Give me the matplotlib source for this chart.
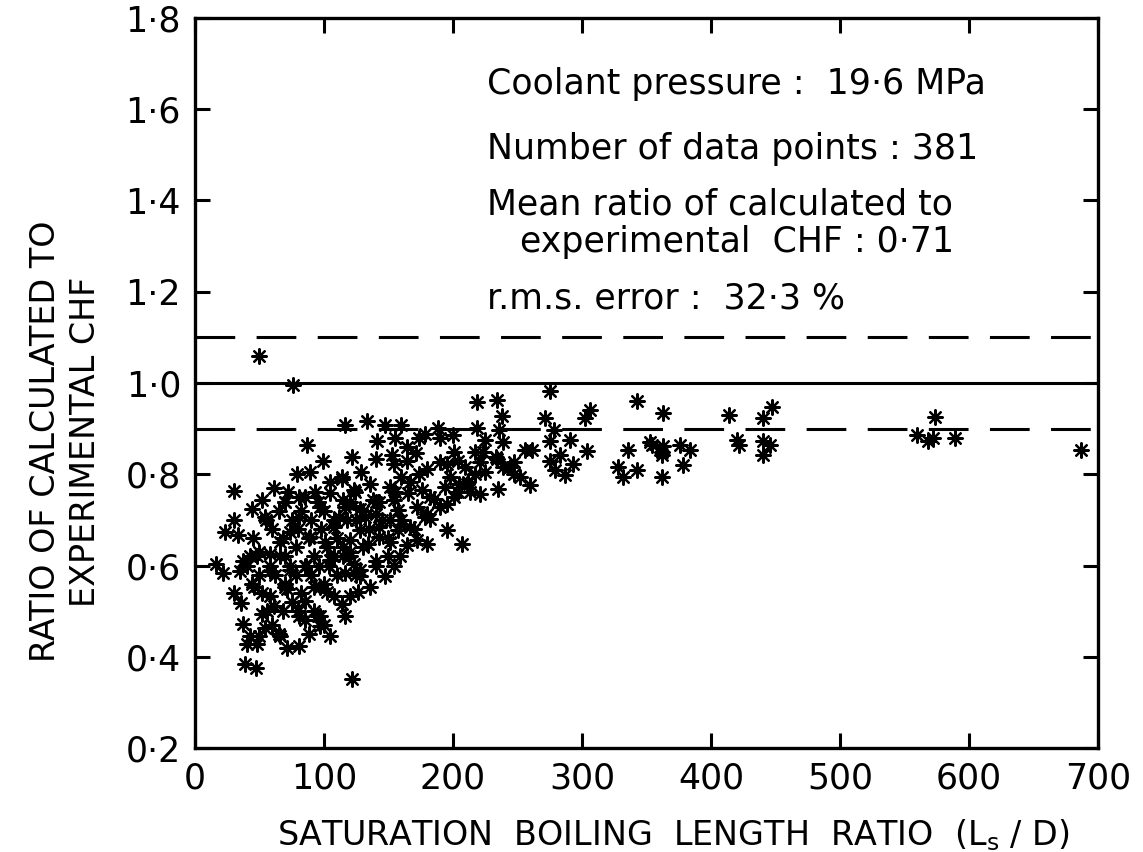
import matplotlib.pyplot as plt
import matplotlib.ticker as mticker

# Ls/D and ratio of calculated to experimental CHF
ls_d = [
    50, 76, 87, 99, 79, 114, 30, 61, 72, 52, 44, 30, 23, 33,
    16, 22, 30, 36, 37, 43, 40, 39, 47, 48, 71, 114, 97, 95, 92, 71, 74, 58, 37, 52, 61, 54, 102, 105, 122,
    219, 234, 238, 236, 239, 219, 225, 223, 234, 221, 217, 211, 221, 235,
    116, 133, 147, 160, 141, 178, 188, 190, 200, 164, 171, 153, 122, 140, 195, 204, 180, 129, 154, 164,
    114, 151, 160, 174, 176, 198, 205, 212, 185, 195, 204, 123, 136, 138, 128, 115, 154, 157, 172, 180,
    182, 151, 140, 118, 128, 143, 157, 195, 207, 172, 180, 164, 120, 134, 143, 154, 115, 123, 128, 116, 126,
    275, 343, 363, 271, 306, 302, 278, 275, 291, 256, 261, 304, 336, 353, 362, 233, 247, 283, 275, 239,
    247, 279, 287, 293, 328, 343, 332, 362, 260,
    414, 447, 440, 354, 363, 362, 376, 384, 378, 420, 422, 440, 446, 440, 574, 560, 568, 572, 589, 687,
    55, 60, 65, 68, 70, 75, 78, 80, 82, 85, 88, 90, 92, 95, 98, 100, 102, 105, 108, 110,
    58, 62, 66, 70, 74, 78, 82, 86, 90, 96, 100, 104, 108,
    45, 48, 50, 44, 40, 52, 56, 60, 65, 68, 75, 80, 85, 88, 92, 100,
    120, 125, 130, 135, 140, 145, 150, 160, 165, 170, 110, 115, 120, 125, 130, 140, 150,
    54, 66, 81, 89, 101, 112, 70, 85, 97, 108, 81, 58, 46, 43, 35, 81, 93, 105, 89, 70,
    120, 136, 147, 159, 105, 81, 66, 50, 74, 97, 108, 120, 132, 143, 155, 167, 182, 194, 209, 217,
    201, 190, 174, 155, 124, 116, 50, 58, 70, 85, 97, 116, 128, 140, 151, 167, 178, 190, 201, 213,
    225, 244, 252,
]
ratio = [
    1.059, 0.996, 0.865, 0.830, 0.800, 0.789, 0.763, 0.770, 0.761, 0.743, 0.724, 0.700, 0.674, 0.667,
    0.604, 0.583, 0.539, 0.517, 0.472, 0.446, 0.428, 0.385, 0.376, 0.428, 0.420, 0.515, 0.467, 0.489, 0.554,
    0.548, 0.590, 0.626, 0.609, 0.493, 0.511, 0.463, 0.543, 0.613, 0.352,
    0.959, 0.963, 0.928, 0.898, 0.870, 0.902, 0.876, 0.848, 0.833, 0.826, 0.800, 0.778, 0.757, 0.767,
    0.907, 0.917, 0.909, 0.909, 0.874, 0.889, 0.902, 0.880, 0.887, 0.859, 0.846, 0.843, 0.837, 0.833,
    0.822, 0.830, 0.811, 0.804, 0.822, 0.830,
    0.793, 0.772, 0.793, 0.800, 0.765, 0.793, 0.778, 0.783, 0.746, 0.735, 0.761, 0.765, 0.778, 0.743,
    0.724, 0.743, 0.743, 0.722, 0.728, 0.713,
    0.702, 0.700, 0.713, 0.700, 0.678, 0.685, 0.678, 0.678, 0.648, 0.657, 0.648, 0.646, 0.657, 0.648,
    0.663, 0.598, 0.620, 0.604, 0.591, 0.583, 0.543,
    0.983, 0.961, 0.935, 0.924, 0.941, 0.924, 0.898, 0.874, 0.876, 0.854, 0.854, 0.852, 0.854, 0.870,
    0.848, 0.837, 0.826, 0.843, 0.830, 0.815,
    0.800, 0.809, 0.798, 0.822, 0.815, 0.809, 0.793, 0.793, 0.776,
    0.930, 0.948, 0.924, 0.865, 0.863, 0.843, 0.865, 0.854, 0.820, 0.876, 0.865, 0.874, 0.865, 0.843,
    0.926, 0.885, 0.874, 0.880, 0.880, 0.854,
    0.70, 0.68, 0.72, 0.66, 0.74, 0.70, 0.64, 0.68, 0.72, 0.75, 0.66, 0.70, 0.62, 0.74, 0.68, 0.72, 0.64,
    0.76, 0.70, 0.66,
    0.60, 0.58, 0.62, 0.56, 0.60, 0.58, 0.54, 0.60, 0.58, 0.60, 0.56, 0.60, 0.62,
    0.66, 0.62, 0.58, 0.56, 0.60, 0.54, 0.50, 0.47, 0.45, 0.50, 0.52, 0.50, 0.48, 0.45, 0.50, 0.47,
    0.74, 0.70, 0.72, 0.68, 0.74, 0.70, 0.66, 0.70, 0.76, 0.68, 0.58, 0.64, 0.62, 0.58, 0.64, 0.60, 0.62,
    0.707, 0.652, 0.707, 0.663, 0.652, 0.707, 0.620, 0.598, 0.554, 0.533, 0.489, 0.533, 0.554, 0.620,
    0.587, 0.750, 0.761, 0.783, 0.804, 0.739,
    0.533, 0.554, 0.576, 0.620, 0.446, 0.424, 0.446, 0.446, 0.674, 0.728, 0.685, 0.630, 0.707, 0.739,
    0.761, 0.783, 0.750, 0.772, 0.815, 0.848,
    0.848, 0.826, 0.880, 0.880, 0.761, 0.728, 0.630, 0.587, 0.554, 0.522, 0.489, 0.489, 0.576, 0.609,
    0.652, 0.685, 0.707, 0.728, 0.750, 0.761,
    0.804, 0.815, 0.793,
]

ref_level = 1.0
band = [1.1, 0.9]

notes = [
    'Coolant pressure :  19·6 MPa',
    'Number of data points : 381',
    'Mean ratio of calculated to',
    '   experimental  CHF : 0·71',
    'r.m.s. error :  32·3 %',
]

plt.rcParams['font.family'] = ['DejaVu Sans']
fig = plt.figure(figsize=(11.43, 8.52), dpi=100)
ax = fig.add_axes([0.1706, 0.1220, 0.7900, 0.8569])

ax.scatter(ls_d, ratio, marker=(8, 2, 0), s=110, c='black', linewidths=1.6, zorder=3)

ax.axhline(ref_level, color='black', lw=2.2, zorder=2)
for b in band:
    ax.axhline(b, color='black', lw=2.2, dashes=(13, 7), zorder=2)

ax.set_xlim(0, 700)
ax.set_ylim(0.2, 1.8)
ax.set_xticks(range(0, 701, 100))
ax.set_yticks([0.2, 0.4, 0.6, 0.8, 1.0, 1.2, 1.4, 1.6, 1.8])
ax.yaxis.set_major_formatter(mticker.FuncFormatter(lambda v, p: f'{v:.1f}'.replace('.', '·')))
ax.tick_params(direction='in', length=11, width=2.2, labelsize=25, pad=10,
               top=True, right=True)
for s in ax.spines.values():
    s.set_linewidth(2.4)

ax.set_ylabel('RATIO OF CALCULATED TO\nEXPERIMENTAL CHF', fontsize=24, linespacing=1.25)
ax.yaxis.set_label_coords(-0.103, 0.42)
ax.set_xlabel('SATURATION  BOILING  LENGTH  RATIO  (L$_\\mathrm{s}$ / D)', fontsize=24)
ax.xaxis.set_label_coords(0.53, -0.095)

ys = [0.909, 0.820, 0.744, 0.693, 0.616]
for t, y in zip(notes, ys):
    ax.text(0.323, y, t, transform=ax.transAxes, fontsize=25, va='center', ha='left')

fig.savefig('out.png', dpi=100)
